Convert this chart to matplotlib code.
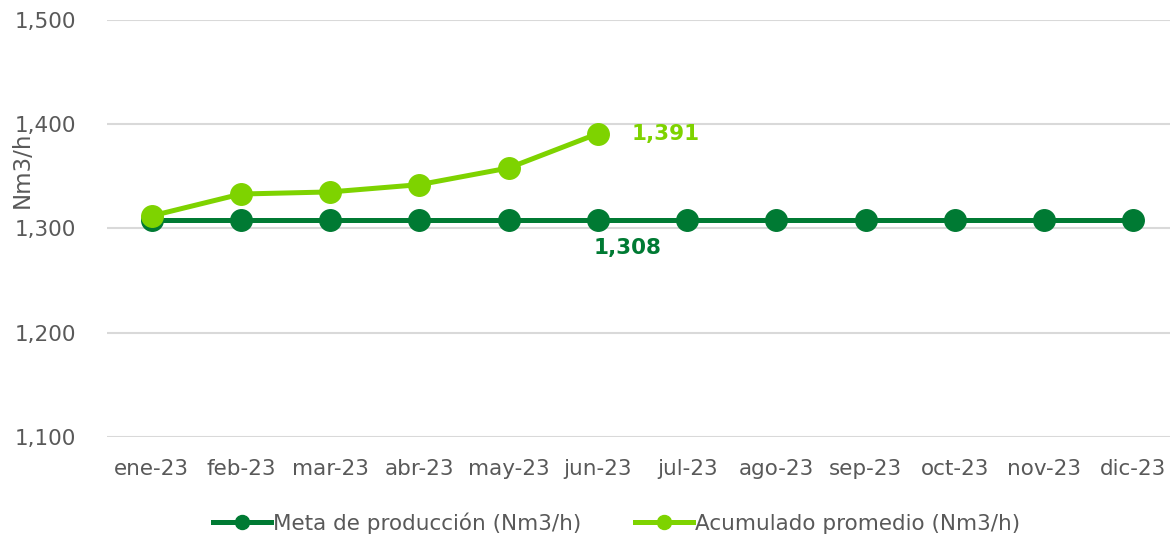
import matplotlib
matplotlib.use("Agg")
import matplotlib.pyplot as plt

months = ["ene-23", "feb-23", "mar-23", "abr-23", "may-23", "jun-23",
          "jul-23", "ago-23", "sep-23", "oct-23", "nov-23", "dic-23"]
meta = [1308] * 12
acumulado = [1312, 1333, 1335, 1342, 1358, 1391]
yticks = [1100, 1200, 1300, 1400, 1500]

DARK = "#007A33"
LIGHT = "#7ED300"
TEXT = "#595959"
FS = 15.5

plt.rcParams['font.family'] = ['DejaVu Sans']
fig = plt.figure(figsize=(11.7, 5.4), dpi=100)
ax = fig.add_axes([0.0915, 0.191, 1 - 0.0915, 0.963 - 0.191])

x = list(range(len(months)))
ax.plot(x, meta, color=DARK, lw=3.6, marker="o", ms=15.5, label="Meta de producción (Nm3/h)", zorder=3)
ax.plot(x[:len(acumulado)], acumulado, color=LIGHT, lw=3.6, marker="o", ms=15.5,
        label="Acumulado promedio (Nm3/h)", zorder=4)

ax.set_ylim(1100, 1500)
ax.set_xlim(-0.5, 11.41)
ax.set_yticks(yticks)
ax.set_yticklabels([f"{v:,}" for v in yticks])
ax.set_xticks(x)
ax.set_xticklabels(months)
ax.tick_params(axis="both", length=0, labelsize=FS, colors=TEXT)
ax.tick_params(axis="x", pad=16)
ax.tick_params(axis="y", pad=22)
for s in ax.spines.values():
    s.set_visible(False)
ax.grid(axis="y", color="#D9D9D9", lw=1.5)
ax.set_axisbelow(True)

ax.annotate(f"{acumulado[-1]:,}", (5, acumulado[-1]), xytext=(24, 0), textcoords="offset points",
            ha="left", va="center", fontsize=FS, fontweight="bold", color=LIGHT)
ax.annotate(f"{meta[5]:,}", (5, meta[5]), xytext=(-3, -20), textcoords="offset points",
            ha="left", va="center", fontsize=FS, fontweight="bold", color=DARK)

fig.text(22 / 1170, 1 - 170 / 540, "Nm3/h", rotation=90, ha="center", va="center",
         fontsize=16.5, color=TEXT)

leg = fig.legend(loc="center", bbox_to_anchor=(0.527, 1 - 523 / 540), ncol=2, frameon=False,
                 fontsize=FS, labelcolor=TEXT, handlelength=2.7, handletextpad=0.1,
                 columnspacing=2.5, markerscale=0.65)

fig.savefig("out.png", dpi=100)
